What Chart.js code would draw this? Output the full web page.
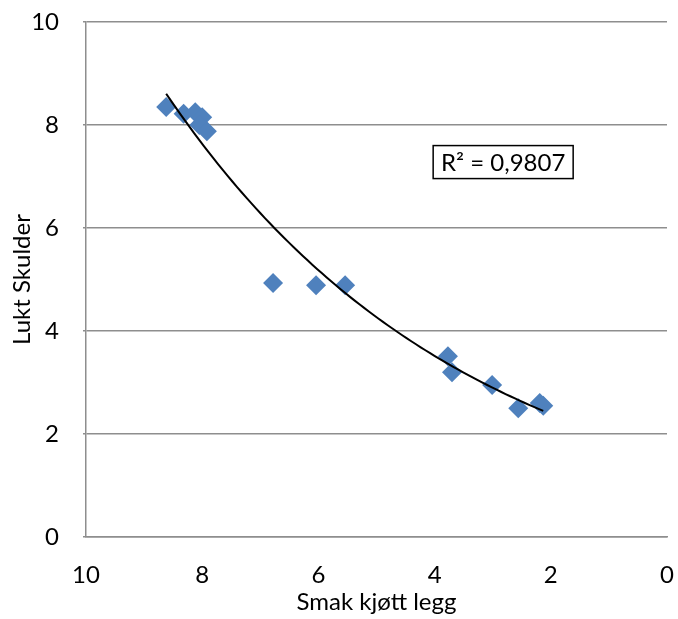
<!DOCTYPE html>
<html>
<head>
<meta charset="utf-8">
<script src="https://cdn.jsdelivr.net/npm/chart.js@4/dist/chart.umd.min.js"></script>
<style>
  html, body { margin: 0; padding: 0; background: #ffffff; }
  #wrap { width: 678px; height: 619px; }
</style>
</head>
<body>
<div id="wrap"><canvas id="c" width="678" height="619"></canvas></div>
<script>
// Smak kjøtt legg (x) against Lukt Skulder (y)
const smakKjottLegg = [8.62, 8.32, 8.12, 8.00, 8.05, 7.92, 6.78, 6.04, 5.54, 3.77, 3.70, 3.01, 2.56, 2.19, 2.13];
const luktSkulder   = [8.35, 8.22, 8.25, 8.15, 8.00, 7.88, 4.93, 4.89, 4.89, 3.51, 3.20, 2.95, 2.50, 2.60, 2.55];
const yTicks = [0, 2, 4, 6, 8, 10];
const xTicks = [0, 2, 4, 6, 8, 10];
const rSquaredText = 'R² = 0,9807';

const FONT = 'Lato, "Liberation Sans", sans-serif';
const GRID = '#8e8e8e';

const points = smakKjottLegg.map((x, i) => ({ x: x, y: luktSkulder[i] }));

// Exponential trend line y = a·e^(b·x), least squares on ln(y)
function expFit(xs, ys) {
  const n = xs.length;
  let sx = 0, sy = 0, sxx = 0, sxy = 0;
  for (let i = 0; i < n; i++) {
    const ly = Math.log(ys[i]);
    sx += xs[i]; sy += ly; sxx += xs[i] * xs[i]; sxy += xs[i] * ly;
  }
  const b = (n * sxy - sx * sy) / (n * sxx - sx * sx);
  const lnA = (sy - b * sx) / n;
  return x => Math.exp(lnA + b * x);
}
const trend = expFit(smakKjottLegg, luktSkulder);
const xMin = Math.min(...smakKjottLegg), xMax = Math.max(...smakKjottLegg);
const trendPoints = [];
for (let k = 0; k <= 80; k++) {
  const x = xMin + (xMax - xMin) * k / 80;
  trendPoints.push({ x: x, y: trend(x) });
}

// Boxed R² label placed in data space
const rSquaredBox = {
  id: 'rSquaredBox',
  afterDatasetsDraw(chart) {
    const ctx = chart.ctx;
    const cx = chart.scales.x.getPixelForValue(2.82);
    const cy = chart.scales.y.getPixelForValue(7.28);
    const w = 140, h = 33;
    ctx.save();
    ctx.fillStyle = '#ffffff';
    ctx.fillRect(cx - w / 2, cy - h / 2, w, h);
    ctx.strokeStyle = '#000000';
    ctx.lineWidth = 1.5;
    ctx.strokeRect(cx - w / 2, cy - h / 2, w, h);
    ctx.fillStyle = '#000000';
    ctx.font = '24px ' + FONT;
    ctx.textAlign = 'center';
    ctx.textBaseline = 'middle';
    ctx.fillText(rSquaredText, cx, cy + 1);
    ctx.restore();
  }
};

new Chart(document.getElementById('c'), {
  type: 'scatter',
  data: {
    datasets: [
      {
        label: 'Trend',
        data: trendPoints,
        showLine: true,
        borderColor: '#000000',
        borderWidth: 2,
        pointRadius: 0,
        fill: false,
        tension: 0
      },
      {
        label: 'Lukt Skulder',
        data: points,
        pointStyle: 'rectRot',
        pointRadius: 10,
        pointHoverRadius: 10,
        backgroundColor: '#4F81BD',
        borderColor: '#4F81BD',
        borderWidth: 0
      }
    ]
  },
  options: {
    responsive: false,
    animation: false,
    devicePixelRatio: 1,
    layout: { padding: { top: 22, right: 11, bottom: 0, left: 0 } },
    plugins: {
      legend: { display: false },
      tooltip: { enabled: false }
    },
    scales: {
      x: {
        type: 'linear',
        reverse: true,
        min: 0,
        max: 10,
        afterBuildTicks: s => { s.ticks = xTicks.map(v => ({ value: v })); },
        afterFit: s => { s.height = 82; s.paddingLeft = 0; s.paddingRight = 0; },
        grid: { display: false, drawTicks: false },
        border: { display: true, color: GRID, width: 1.5 },
        ticks: { color: '#000000', font: { family: FONT, size: 24 }, padding: 24, maxRotation: 0 },
        title: {
          display: true,
          text: 'Smak kjøtt legg',
          color: '#000000',
          font: { family: FONT, size: 24 },
          padding: { top: 0, bottom: 2 }
        }
      },
      y: {
        type: 'linear',
        min: 0,
        max: 10,
        afterBuildTicks: s => { s.ticks = yTicks.map(v => ({ value: v })); },
        afterFit: s => { s.width = 86; s.paddingTop = 0; s.paddingBottom = 0; },
        grid: { color: GRID, lineWidth: 1.5, drawTicks: true, tickLength: 3, tickColor: GRID },
        border: { display: true, color: GRID, width: 1.5 },
        ticks: { color: '#000000', font: { family: FONT, size: 24 }, padding: 24 },
        title: {
          display: true,
          text: 'Lukt Skulder',
          color: '#000000',
          font: { family: FONT, size: 24 },
          padding: { top: 8, bottom: 0 }
        }
      }
    }
  },
  plugins: [rSquaredBox]
});
</script>
</body>
</html>
